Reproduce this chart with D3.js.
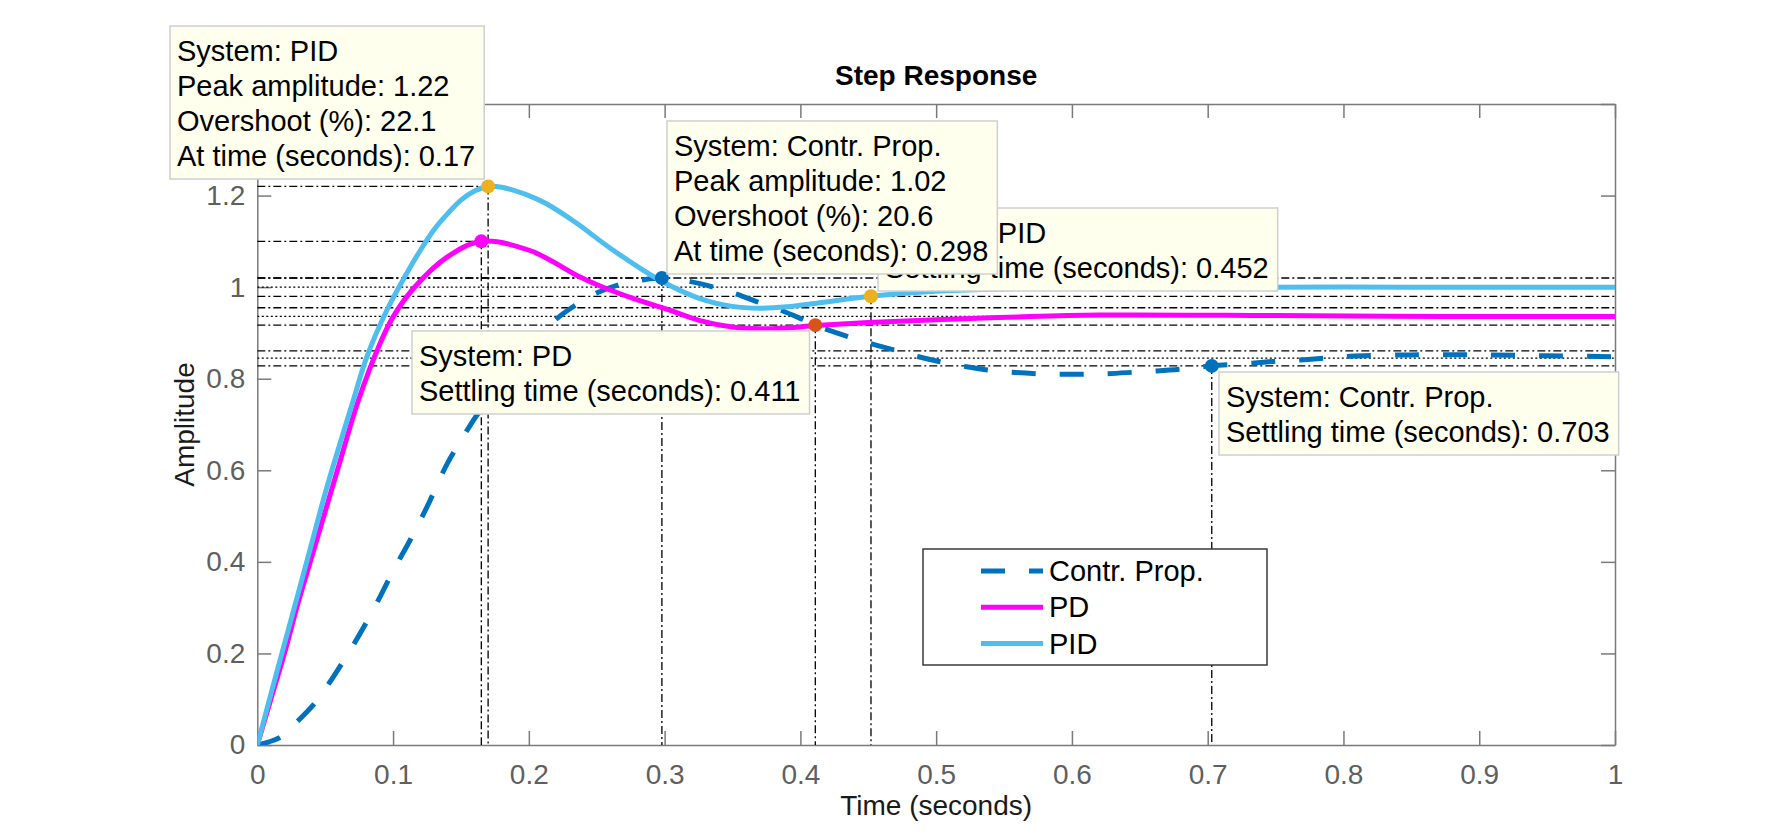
<!DOCTYPE html>
<html><head><meta charset="utf-8">
<script src="https://cdn.jsdelivr.net/npm/d3@7"></script>
<style>
body{margin:0;background:#fff}
svg{display:block}
text{font-family:"Liberation Sans", Arial, Helvetica, sans-serif}
</style>
</head><body>
<svg id="c" width="1783" height="835"></svg>
<script>
// ---------- data ----------
const seriesNames = ["Contr. Prop.", "PD", "PID"];

const timeCP = [0, 0.017, 0.029, 0.0425, 0.052, 0.0625, 0.075, 0.088, 0.1, 0.113, 0.125, 0.14, 0.153, 0.164, 0.18, 0.2, 0.219, 0.234, 0.249, 0.266, 0.282, 0.298, 0.319, 0.336, 0.353, 0.369, 0.386, 0.403, 0.418, 0.435, 0.4525, 0.47, 0.487, 0.503, 0.521, 0.538, 0.556, 0.574, 0.591, 0.609, 0.6255, 0.645, 0.662, 0.68, 0.703, 0.733, 0.75, 0.768, 0.786, 0.805, 0.85, 0.9, 0.95, 1.0];
const ampCP  = [0, 0.017, 0.05, 0.092, 0.131, 0.179, 0.24, 0.31, 0.38, 0.45, 0.52, 0.615, 0.68, 0.73, 0.79, 0.862, 0.927, 0.96, 0.986, 1.005, 1.015, 1.02, 1.012, 1.0, 0.985, 0.967, 0.949, 0.928, 0.909, 0.892, 0.876, 0.862, 0.848, 0.837, 0.827, 0.819, 0.814, 0.811, 0.81, 0.81, 0.811, 0.814, 0.817, 0.821, 0.828, 0.834, 0.838, 0.841, 0.845, 0.849, 0.852, 0.852, 0.85, 0.848];

const timePD = [0, 0.01, 0.02, 0.03, 0.04, 0.05, 0.06, 0.0745, 0.0904, 0.1, 0.115, 0.1395, 0.165, 0.2008, 0.2377, 0.252, 0.28, 0.3015, 0.326, 0.35, 0.37, 0.39, 0.411, 0.45, 0.5, 0.56, 0.62, 0.75, 0.875, 1.0];
const ampPD  = [0, 0.1, 0.2, 0.31, 0.41, 0.51, 0.61, 0.753, 0.877, 0.935, 0.997, 1.065, 1.10, 1.08, 1.022, 1.003, 0.972, 0.952, 0.927, 0.913, 0.909, 0.911, 0.916, 0.923, 0.929, 0.935, 0.939, 0.938, 0.936, 0.936];

const timePID = [0, 0.0167, 0.03, 0.04, 0.05, 0.06, 0.0707, 0.0806, 0.0953, 0.11, 0.12, 0.13, 0.14, 0.15, 0.16, 0.17, 0.18, 0.2, 0.213, 0.235, 0.26, 0.2966, 0.326, 0.35, 0.37, 0.39, 0.412, 0.452, 0.5, 0.55, 0.6, 0.7, 0.85, 1.0];
const ampPID  = [0, 0.185, 0.33, 0.44, 0.55, 0.65, 0.753, 0.847, 0.949, 1.03, 1.08, 1.125, 1.16, 1.19, 1.21, 1.22, 1.218, 1.2, 1.182, 1.14, 1.085, 1.015, 0.975, 0.958, 0.954, 0.957, 0.965, 0.98, 0.991, 0.996, 0.999, 1.0, 1.0, 1.0];

const peakTime   = [0.298, 0.165, 0.17];
const peakAmp    = [1.02, 1.10, 1.22];
const finalValue = [0.845, 0.936, 1.0];
const bandHigh   = [0.861, 0.955, 1.02];
const bandLow    = [0.828, 0.917, 0.98];
const settleTime = [0.703, 0.411, 0.452];
const settleAmp  = [0.828, 0.917, 0.98];

const xTicks = [0, 0.1, 0.2, 0.3, 0.4, 0.5, 0.6, 0.7, 0.8, 0.9, 1];
const yTicks = [0, 0.2, 0.4, 0.6, 0.8, 1, 1.2, 1.4];
const yTickLabels = ["0", "0.2", "0.4", "0.6", "0.8", "1", "1.2", ""]; // 1.4 hidden under the data tip

const tipPID_peak   = ["System: PID", "Peak amplitude: 1.22", "Overshoot (%): 22.1", "At time (seconds): 0.17"];
const tipPID_settle = ["System: PID", "Settling time (seconds): 0.452"];
const tipCP_peak    = ["System: Contr. Prop.", "Peak amplitude: 1.02", "Overshoot (%): 20.6", "At time (seconds): 0.298"];
const tipPD_settle  = ["System: PD", "Settling time (seconds): 0.411"];
const tipCP_settle  = ["System: Contr. Prop.", "Settling time (seconds): 0.703"];

const titleText = "Step Response";
const xLabelText = "Time (seconds)";
const yLabelText = "Amplitude";

// ---------- styles ----------
const colors = {"Contr. Prop.": "#0072BD", "PD": "#FF00FF", "PID": "#4DBEEE"};
const peakMarkerColors = ["#0072BD", "#FF00FF", "#EDB120"];
const settleMarkerColors = ["#0072BD", "#D95319", "#EDB120"];

const L = 257.3, R = 1615, T = 104, B = 745;
const svg = d3.select("#c");
const x = d3.scaleLinear().domain([0, 1]).range([L, R]);
const y = d3.scaleLinear().domain([0, 1.4]).range([B, T]);

const axisCol = "#7a7a7a", tickTextCol = "#5f5f5f";
const FS = 28, TIPFS = 29;

svg.append("defs").append("clipPath").attr("id", "plotclip")
  .append("rect").attr("x", L).attr("y", T).attr("width", R - L).attr("height", B - T);

// ---------- axes ----------
function styleAxis(g) {
  g.selectAll("path.domain").attr("stroke", axisCol).attr("stroke-width", 1.5);
  g.selectAll(".tick line").attr("stroke", axisCol).attr("stroke-width", 1.5);
  g.selectAll(".tick text").attr("fill", tickTextCol).style("font-size", FS + "px");
}
const fmt = d => d3.format("~g")(d);
svg.append("g").attr("transform", `translate(0,${B})`)
  .call(d3.axisBottom(x).tickValues(xTicks).tickFormat(fmt).tickSizeInner(-14).tickSizeOuter(0).tickPadding(19))
  .call(styleAxis);
svg.append("g").attr("transform", `translate(${L},0)`)
  .call(d3.axisLeft(y).tickValues(yTicks).tickFormat((d, i) => yTickLabels[i]).tickSizeInner(-14).tickSizeOuter(0).tickPadding(12))
  .call(styleAxis);
svg.append("g").attr("transform", `translate(0,${T})`)
  .call(d3.axisTop(x).tickValues(xTicks).tickFormat("").tickSizeInner(-14).tickSizeOuter(0))
  .call(styleAxis);
svg.append("g").attr("transform", `translate(${R},0)`)
  .call(d3.axisRight(y).tickValues(yTicks).tickFormat("").tickSizeInner(-14).tickSizeOuter(0))
  .call(styleAxis);

svg.append("text").attr("x", (L + R) / 2).attr("y", 85).attr("text-anchor", "middle")
  .style("font-size", FS + "px").style("font-weight", "bold").attr("fill", "#000").text(titleText);
svg.append("text").attr("x", (L + R) / 2).attr("y", 815).attr("text-anchor", "middle")
  .style("font-size", FS + "px").attr("fill", "#1a1a1a").text(xLabelText);
svg.append("text").attr("transform", `translate(184,${(T + B) / 2}) rotate(-90)`).attr("dy", "0.35em")
  .attr("text-anchor", "middle").style("font-size", FS + "px").attr("fill", "#1a1a1a").text(yLabelText);

// ---------- reference lines ----------
const ref = svg.append("g").attr("clip-path", "url(#plotclip)");
const dashDot = "8,3,2,3", dotted = "2,2.5";
function refLine(x1, y1, x2, y2, dash) {
  ref.append("line").attr("x1", x(x1)).attr("y1", y(y1)).attr("x2", x(x2)).attr("y2", y(y2))
    .attr("stroke", "#000").attr("stroke-width", 1.3).attr("stroke-dasharray", dash);
}
for (let i = 0; i < 3; i++) {
  refLine(0, bandHigh[i], 1, bandHigh[i], dashDot);
  refLine(0, finalValue[i], 1, finalValue[i], dotted);
  refLine(0, bandLow[i], 1, bandLow[i], dashDot);
  refLine(settleTime[i], settleAmp[i], settleTime[i], 0, dashDot);
  refLine(0, peakAmp[i], peakTime[i], peakAmp[i], dashDot);
  refLine(peakTime[i], peakAmp[i], peakTime[i], 0, dashDot);
}

// ---------- curves ----------
const line = d3.line().x(d => x(d[0])).y(d => y(d[1])).curve(d3.curveCatmullRom.alpha(0.5));
const curves = svg.append("g").attr("clip-path", "url(#plotclip)");
const series = [
  {name: "Contr. Prop.", t: timeCP, a: ampCP, dash: "24,24"},
  {name: "PD", t: timePD, a: ampPD, dash: null},
  {name: "PID", t: timePID, a: ampPID, dash: null}
];
series.forEach(s => {
  curves.append("path").datum(d3.zip(s.t, s.a)).attr("d", line)
    .attr("fill", "none").attr("stroke", colors[s.name]).attr("stroke-width", 5)
    .attr("stroke-dasharray", s.dash);
});

for (let i = 0; i < 3; i++) {
  svg.append("circle").attr("cx", x(peakTime[i])).attr("cy", y(peakAmp[i])).attr("r", 7).attr("fill", peakMarkerColors[i]);
  svg.append("circle").attr("cx", x(settleTime[i])).attr("cy", y(settleAmp[i])).attr("r", 7).attr("fill", settleMarkerColors[i]);
}

// ---------- data tips ----------
function tip(lines, left, top) {
  const g = svg.append("g");
  const rect = g.append("rect").attr("x", left).attr("y", top)
    .attr("fill", "#FFFFEE").attr("stroke", "#cfcfcf").attr("stroke-width", 1.5);
  let maxW = 0;
  lines.forEach((ln, k) => {
    const t = g.append("text").attr("x", left + 7).attr("y", top + 35 + k * 35)
      .style("font-size", TIPFS + "px").attr("fill", "#000").text(ln);
    maxW = Math.max(maxW, t.node().getComputedTextLength());
  });
  rect.attr("width", maxW + 16).attr("height", lines.length * 35 + 13);
}
tip(tipPID_peak, 170, 26);
tip(tipPID_settle, 878, 208);
tip(tipCP_peak, 667, 121);
tip(tipPD_settle, 412, 331);
tip(tipCP_settle, 1219, 372);

// ---------- legend ----------
const lg = svg.append("g");
lg.append("rect").attr("x", 923).attr("y", 549).attr("width", 344).attr("height", 116)
  .attr("fill", "#fff").attr("stroke", "#3a3a3a").attr("stroke-width", 1.5);
series.forEach((s, i) => {
  const cy = 571 + i * 36.3;
  lg.append("line").attr("x1", 981).attr("x2", 1043).attr("y1", cy).attr("y2", cy)
    .attr("stroke", colors[s.name]).attr("stroke-width", 5).attr("stroke-dasharray", s.dash);
  lg.append("text").attr("x", 1049).attr("y", cy).attr("dy", "0.35em")
    .style("font-size", TIPFS + "px").attr("fill", "#000").text(seriesNames[i]);
});
</script>
</body></html>
